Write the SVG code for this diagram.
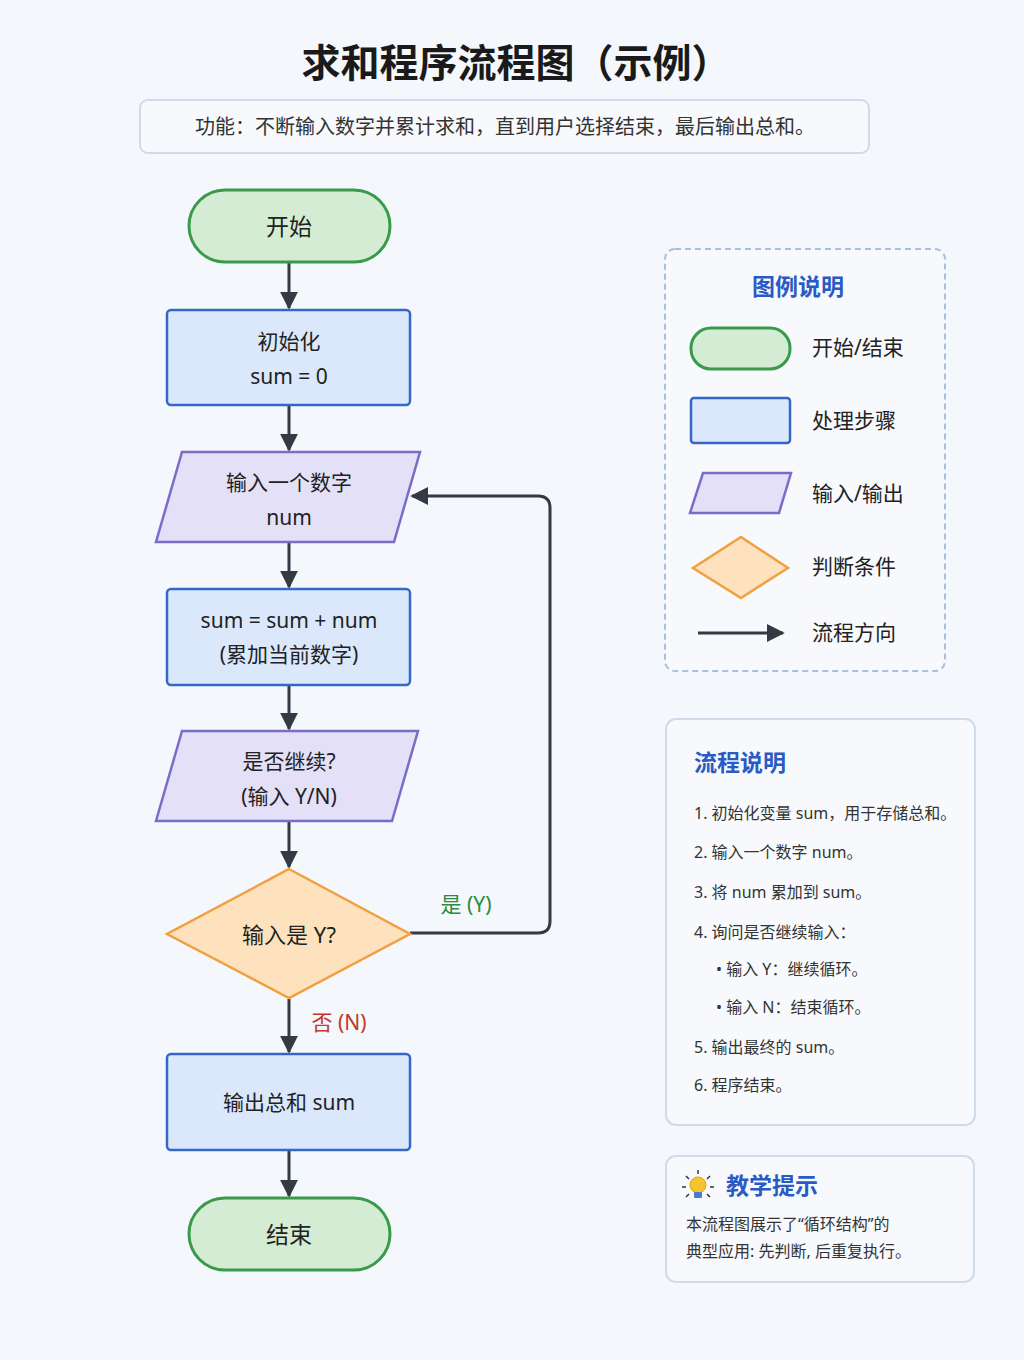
<svg xmlns="http://www.w3.org/2000/svg" width="1024" height="1360" viewBox="0 0 1024 1360">
<defs>
<marker id="ahb" viewBox="0 0 10 10" refX="9" refY="5" markerWidth="18" markerHeight="18" markerUnits="userSpaceOnUse" orient="auto"><path d="M0,0L10,5L0,10z" fill="#333a44"/></marker>
<style>
text{font-family:"Noto Sans","Noto Sans CJK SC",sans-serif;fill:#222}
.c{text-anchor:middle}
.n{font-size:21px}
.g{fill:#d5ecd4;stroke:#3a9a4c;stroke-width:3}
.b{fill:#dbe8fb;stroke:#3567c8;stroke-width:2.5}
.p{fill:#e3e0f7;stroke:#7b6cc9;stroke-width:2.5}
.o{fill:#fde2bd;stroke:#f0a040;stroke-width:2.5}
.card{fill:#f7f9fc;stroke:#cfdbe8;stroke-width:2}
.h{font-size:23px;font-weight:bold;fill:#2a5bc4}
.s{font-size:16px;fill:#333}
.conn{stroke:#333a44;stroke-width:3;fill:none}
.yes{fill:#2e8b3e}
.no{fill:#c0392b}
</style>
</defs>
<rect width="1024" height="1360" fill="#f4f7fb"/>
<text x="516" y="77" class="c" font-size="39" font-weight="bold" style="fill:#1a1a1a">求和程序流程图（示例）</text>
<g id="subtitle"><rect x="140" y="100" width="729" height="53" rx="8" class="card"/>
<text x="505" y="134" class="c" font-size="20" style="fill:#333">功能：不断输入数字并累计求和，直到用户选择结束，最后输出总和。</text></g>

<g id="connectors">
<line x1="289" y1="263" x2="289" y2="308" class="conn" marker-end="url(#ahb)"/>
<line x1="289" y1="406" x2="289" y2="450" class="conn" marker-end="url(#ahb)"/>
<line x1="289" y1="543" x2="289" y2="587" class="conn" marker-end="url(#ahb)"/>
<line x1="289" y1="686" x2="289" y2="729" class="conn" marker-end="url(#ahb)"/>
<line x1="289" y1="822" x2="289" y2="867" class="conn" marker-end="url(#ahb)"/>
<line x1="289" y1="999" x2="289" y2="1052" class="conn" marker-end="url(#ahb)"/>
<line x1="289" y1="1151" x2="289" y2="1196" class="conn" marker-end="url(#ahb)"/>
<path d="M410,933H538Q550,933 550,921V508Q550,496 538,496H412" class="conn" marker-end="url(#ahb)"/>
<text x="466" y="912" class="c yes" font-size="21">是 (Y)</text>
<text x="339" y="1030" class="c no" font-size="21">否 (N)</text>
</g>

<g id="start"><rect x="189" y="190" width="201" height="72" rx="36" class="g"/><text x="289" y="235" class="c" font-size="23">开始</text></g>
<g id="init"><rect x="167" y="310" width="243" height="95" rx="4" class="b"/><text x="289" y="349" class="c n">初始化</text><text x="289" y="384" class="c n">sum = 0</text></g>
<g id="input"><polygon points="182,452 420,452 394,542 156,542" class="p"/><text x="289" y="490" class="c n">输入一个数字</text><text x="289" y="525" class="c n">num</text></g>
<g id="accum"><rect x="167" y="589" width="243" height="96" rx="4" class="b"/><text x="289" y="628" class="c n">sum = sum + num</text><text x="289" y="662" class="c n">(累加当前数字)</text></g>
<g id="ask"><polygon points="182,731 418,731 392,821 156,821" class="p"/><text x="289" y="769" class="c n">是否继续?</text><text x="289" y="804" class="c n">(输入 Y/N)</text></g>
<g id="decide"><polygon points="289,869 410,934 289,998 167,934" class="o"/><text x="289" y="943" class="c" font-size="22">输入是 Y?</text></g>
<g id="output"><rect x="167" y="1054" width="243" height="96" rx="4" class="b"/><text x="289" y="1110" class="c n">输出总和 sum</text></g>
<g id="end"><rect x="189" y="1198" width="201" height="72" rx="36" class="g"/><text x="289" y="1243" class="c" font-size="23">结束</text></g>

<g id="legend">
<rect x="665" y="249" width="280" height="422" rx="10" fill="#f7f9fc" stroke="#a9bfdc" stroke-width="2" stroke-dasharray="6,4"/>
<text x="798" y="295" class="c h">图例说明</text>
<rect x="691" y="328" width="99" height="41" rx="20" class="g"/><text x="812" y="355" font-size="21">开始/结束</text>
<rect x="691" y="398" width="99" height="45" rx="3" class="b"/><text x="812" y="428" font-size="21">处理步骤</text>
<polygon points="703,473 791,473 779,513 690,513" class="p"/><text x="812" y="501" font-size="21">输入/输出</text>
<polygon points="741,537 788,568 741,598 693,568" class="o"/><text x="812" y="574" font-size="21">判断条件</text>
<line x1="698" y1="633" x2="783" y2="633" class="conn" marker-end="url(#ahb)"/><text x="812" y="640" font-size="21">流程方向</text>
</g>

<g id="flowdesc">
<rect x="666" y="719" width="309" height="406" rx="10" class="card"/>
<text x="694" y="771" class="h">流程说明</text>
<text x="694" y="819" class="s">1. 初始化变量 sum，用于存储总和。</text>
<text x="694" y="858" class="s">2. 输入一个数字 num。</text>
<text x="694" y="898" class="s">3. 将 num 累加到 sum。</text>
<text x="694" y="938" class="s">4. 询问是否继续输入：</text>
<text x="716" y="975" class="s">•  输入 Y：继续循环。</text>
<text x="716" y="1013" class="s">•  输入 N：结束循环。</text>
<text x="694" y="1053" class="s">5. 输出最终的 sum。</text>
<text x="694" y="1091" class="s">6. 程序结束。</text>
</g>

<g id="tip">
<rect x="666" y="1156" width="308" height="126" rx="10" class="card"/>
<g stroke="#333" stroke-width="1.5">
<line x1="698" y1="1170" x2="698" y2="1174"/><line x1="686" y1="1176" x2="689" y2="1179"/><line x1="710" y1="1176" x2="707" y2="1179"/>
<line x1="682" y1="1187" x2="686" y2="1187"/><line x1="710" y1="1187" x2="714" y2="1187"/>
<line x1="686" y1="1197" x2="689" y2="1194"/><line x1="710" y1="1197" x2="707" y2="1194"/>
</g>
<circle cx="698" cy="1185" r="8" fill="#f6c431" stroke="#e0a800" stroke-width="1"/>
<rect x="694" y="1192" width="8" height="6" rx="1" fill="#4a7bd0"/>
<text x="726" y="1194" class="h">教学提示</text>
<text x="686" y="1230" class="s" font-size="17">本流程图展示了“循环结构”的</text>
<text x="686" y="1257" class="s" font-size="17">典型应用: 先判断, 后重复执行。</text>
</g>
</svg>
